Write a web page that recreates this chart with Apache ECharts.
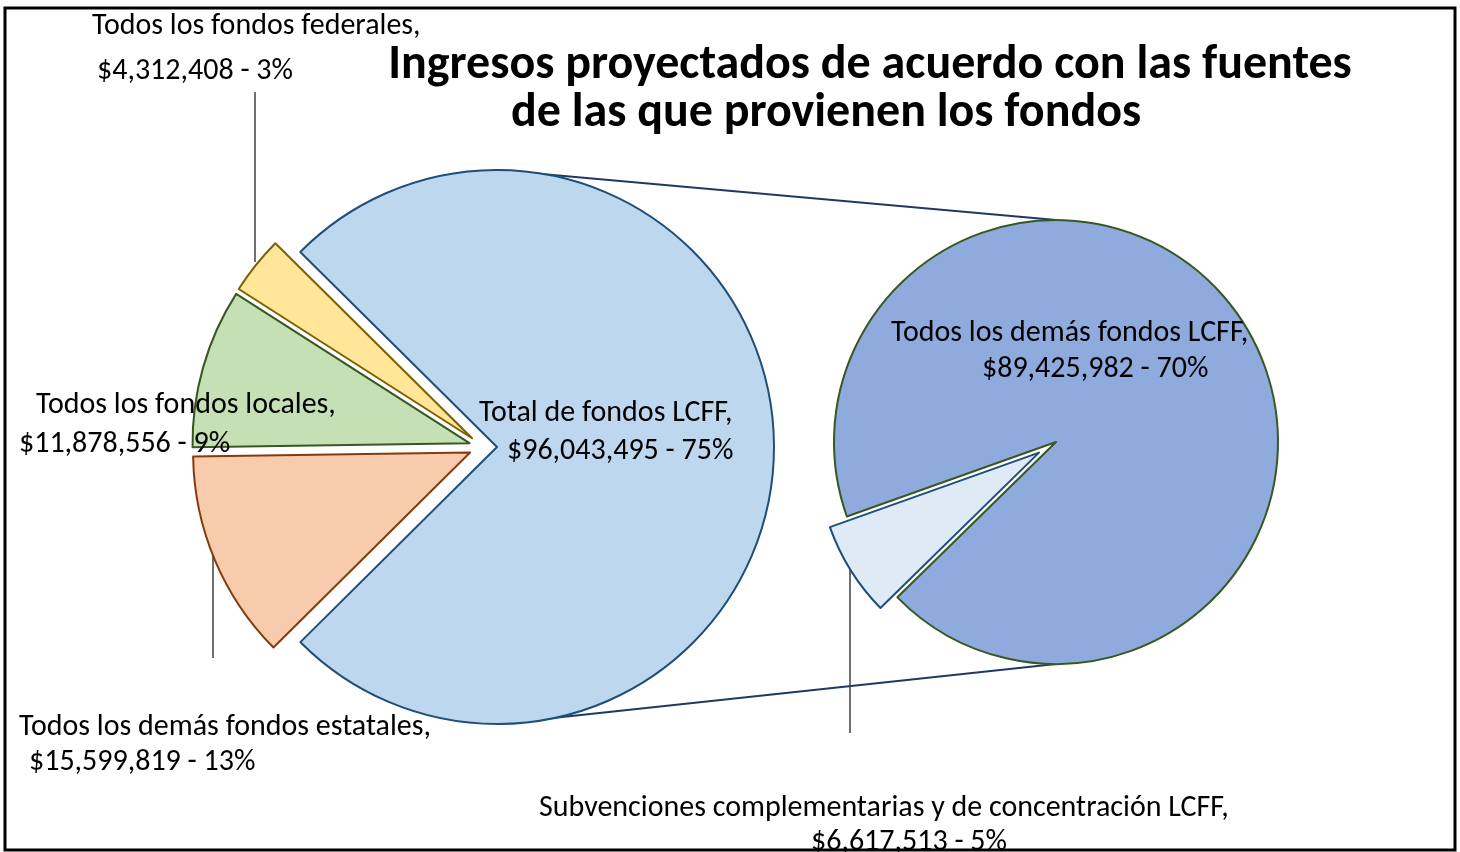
<!DOCTYPE html>
<html lang="es">
<head>
<meta charset="utf-8">
<title>Ingresos proyectados</title>
<script src="https://cdn.jsdelivr.net/npm/echarts@6.0.0/dist/echarts.min.js"></script>
</head>
<body style="margin:0;background:#fff">
<div id="main" style="width:1460px;height:852px"></div>
<script>
// datos del gráfico
const titleLines = ['Ingresos proyectados de acuerdo con las fuentes', 'de las que provienen los fondos'];
const mainNames = ['Total de fondos LCFF', 'Todos los demás fondos estatales', 'Todos los fondos locales', 'Todos los fondos federales'];
const mainValues = [96043495, 15599819, 11878556, 4312408];
const mainPct = ['75%', '13%', '9%', '3%'];
const subNames = ['Todos los demás fondos LCFF', 'Subvenciones complementarias y de concentración LCFF'];
const subValues = [89425982, 6617513];
const subPct = ['70%', '5%'];

// estilos y posiciones
const mainFill = ['#BDD7EE', '#F8CBAD', '#C5E0B4', '#FFE699'];
const mainBorder = ['#1F4E79', '#843C0C', '#385723', '#7F6000'];
const subFill = ['#8FAADC', '#DEEBF7'];
const subBorder = ['#385723', '#1F4E79'];

const leftCenter = [483, 447], leftR = 277, leftOffset = 14;
const rightCenter = [1056, 442], rightR = 222, rightOffset = 20;

// inicio x / centro y de cada línea de etiqueta: [x1, y1, x2, y2]
const mainLabelPos = [[480, 411, 508, 449], [20, 725, 30, 760], [37, 403, 20, 442], [93, 24, 98, 69]];
const subLabelPos = [[892, 331, 983, 367], [540, 806, 812, 840]];
// líneas guía verticales [x1, y1, x2, y2]
const mainLeader = [null, [213, 555, 213, 658], null, [255, 262, 255, 92]];
const subLeader = [null, [850, 570, 850, 733]];

const FONT = 'Carlito, Calibri, Lato, sans-serif';
const labelFont = { fontFamily: FONT, fontSize: 30, color: '#000' };

// sectores visibles (desplazados con "selected")
function sliceItems(names, values, fills, borders, selected) {
    return names.map((n, i) => {
        const style = { color: fills[i], borderColor: borders[i], borderWidth: 2 };
        return { name: n, value: values[i], selected: selected[i], itemStyle: style, select: { itemStyle: style } };
    });
}

// capa transparente que lleva las etiquetas
function labelItems(names, values, pcts, pos, leaders) {
    return names.map((n, i) => {
        const [x1, y1, x2, y2] = pos[i];
        const left = Math.min(x1, x2);
        const gap = y2 - y1;
        return {
            name: n,
            value: values[i],
            label: {
                formatter: '{a|' + n + ',}\n{b|$' + values[i].toLocaleString('en-US') + ' - ' + pcts[i] + '}',
                rich: {
                    a: Object.assign({ padding: [0, 0, 0, x1 - left], lineHeight: gap }, labelFont),
                    b: Object.assign({ padding: [0, 0, 0, x2 - left], lineHeight: gap }, labelFont)
                }
            },
            labelLine: { show: !!leaders[i] }
        };
    });
}

function layoutFor(pos, leaders) {
    return function (p) {
        const [x1, y1, x2, y2] = pos[p.dataIndex];
        const out = { x: Math.min(x1, x2) - 1, y: y1 - (y2 - y1) / 2 + 2, align: 'left', verticalAlign: 'top' };
        const L = leaders[p.dataIndex];
        if (L) out.labelLinePoints = [[L[0], L[1]], [L[0], (L[1] + L[3]) / 2], [L[2], L[3]]];
        return out;
    };
}

const myChart = echarts.init(document.getElementById('main'), null, { renderer: 'canvas' });

const pieBase = {
    type: 'pie',
    avoidLabelOverlap: false,
    animation: false,
    emphasis: { disabled: true }
};

function slicesSeries(center, r, start, offset, data) {
    return Object.assign({}, pieBase, {
        center: center, radius: r, startAngle: start,
        selectedMode: 'multiple', selectedOffset: offset,
        label: { show: false }, labelLine: { show: false },
        data: data
    });
}

function labelSeries(center, r, start, data, pos, leaders) {
    return Object.assign({}, pieBase, {
        center: center, radius: r, startAngle: start,
        silent: true, z: 5,
        itemStyle: { color: 'rgba(0,0,0,0)', borderWidth: 0 },
        label: { position: 'outside', width: 900, overflow: 'none', align: 'left' },
        labelLine: { lineStyle: { color: '#404040', width: 1.5 } },
        data: data,
        labelLayout: layoutFor(pos, leaders)
    });
}

const titleStyle = { fontFamily: FONT, fontWeight: 'bold', fontSize: 48, lineHeight: 48, color: '#000' };

const option = {
    backgroundColor: '#fff',
    animation: false,
    title: [
        { text: titleLines[0], left: 870, top: 42, padding: 0, textAlign: 'center', textStyle: titleStyle },
        { text: titleLines[1], left: 826, top: 90, padding: 0, textAlign: 'center', textStyle: titleStyle }
    ],
    graphic: [
        {
            type: 'line', z: 0,
            shape: { x1: leftCenter[0] + leftOffset, y1: leftCenter[1] - leftR, x2: rightCenter[0], y2: rightCenter[1] - rightR },
            style: { stroke: '#203864', lineWidth: 2 }
        },
        {
            type: 'line', z: 0,
            shape: { x1: leftCenter[0] + leftOffset, y1: leftCenter[1] + leftR, x2: rightCenter[0], y2: rightCenter[1] + rightR },
            style: { stroke: '#203864', lineWidth: 2 }
        },
        {
            type: 'rect', z: 100,
            shape: { x: 5, y: 8, width: 1450, height: 842 },
            style: { fill: null, stroke: '#000', lineWidth: 3 }
        }
    ],
    series: [
        slicesSeries(leftCenter, leftR, 135.25, leftOffset,
            sliceItems(mainNames, mainValues, mainFill, mainBorder, [true, true, true, true])),
        slicesSeries(rightCenter, rightR, 199.6, rightOffset,
            sliceItems(subNames, subValues, subFill, subBorder, [false, true])),
        labelSeries(leftCenter, leftR, 135.25,
            labelItems(mainNames, mainValues, mainPct, mainLabelPos, mainLeader), mainLabelPos, mainLeader),
        labelSeries(rightCenter, rightR, 199.6,
            labelItems(subNames, subValues, subPct, subLabelPos, subLeader), subLabelPos, subLeader)
    ]
};

myChart.setOption(option);
</script>
</body>
</html>
